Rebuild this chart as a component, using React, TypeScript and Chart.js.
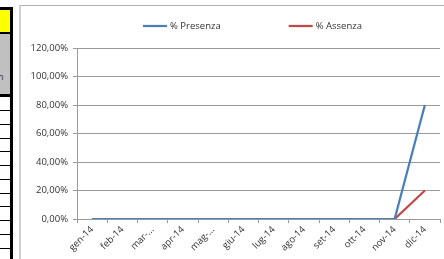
import React, { useEffect, useRef } from "react";
import { Chart, registerables } from "chart.js";

Chart.register(...registerables);

const categories = ["gen-14", "feb-14", "mar-...", "apr-14", "mag-...", "giu-14", "lug-14", "ago-14", "set-14", "ott-14", "nov-14", "dic-14"];
const presenza = [0, 0, 0, 0, 0, 0, 0, 0, 0, 0, 0, 80];
const assenza = [0, 0, 0, 0, 0, 0, 0, 0, 0, 0, 0, 20];
const seriesNames = ["% Presenza", "% Assenza"];
const seriesColors = ["#4A7EBB", "#BE4B48"];
const yMin = 0;
const yMax = 120;
const yStep = 20;
const rowLines = [110, 123.5, 137.5, 151, 165, 178.5, 192.5, 206, 220, 233.5, 247.5];

const FONT = "'Open Sans', 'Liberation Sans', sans-serif";
const TEXT = "#333333";
const GRID = "#9a9a9a";

const legendPlugin = {
  id: "customLegend",
  afterDraw(chart: any) {
    const ctx = chart.ctx;
    ctx.save();
    ctx.font = `9.5px ${FONT}`;
    const lineW = 24;
    const gap = 3;
    const itemGap = 68;
    const widths = chart.data.datasets.map((d: any) => lineW + gap + ctx.measureText(d.label).width);
    const total = widths.reduce((a: number, b: number) => a + b, 0) + itemGap * (widths.length - 1);
    let x = chart.width / 2 - total / 2;
    const y = 19;
    chart.data.datasets.forEach((d: any, i: number) => {
      ctx.strokeStyle = d.borderColor;
      ctx.lineWidth = 2.25;
      ctx.beginPath();
      ctx.moveTo(x, y);
      ctx.lineTo(x + lineW, y);
      ctx.stroke();
      ctx.fillStyle = TEXT;
      ctx.textBaseline = "middle";
      ctx.textAlign = "left";
      ctx.fillText(d.label, x + lineW + gap, y);
      x += widths[i] + itemGap;
    });
    ctx.restore();
  },
};

function ChartView() {
  const ref = useRef<HTMLCanvasElement | null>(null);
  useEffect(() => {
    if (!ref.current) return;
    const chart = new Chart(ref.current, {
      type: "line",
      data: {
        labels: categories,
        datasets: [
          { label: seriesNames[0], data: presenza, borderColor: seriesColors[0], backgroundColor: seriesColors[0], borderWidth: 2.25, pointRadius: 0, tension: 0 },
          { label: seriesNames[1], data: assenza, borderColor: seriesColors[1], backgroundColor: seriesColors[1], borderWidth: 2.25, pointRadius: 0, tension: 0 },
        ],
      },
      options: {
        responsive: false,
        animation: false,
        layout: { padding: { top: 41, right: 44, left: 0, bottom: 0 } },
        plugins: { legend: { display: false }, tooltip: { enabled: false } },
        scales: {
          x: {
            offset: true,
            grid: { offset: true, drawOnChartArea: false, drawTicks: true, tickLength: 4, color: GRID },
            border: { color: GRID },
            ticks: { minRotation: 45, maxRotation: 45, autoSkip: false, color: TEXT, font: { family: FONT, size: 9.5 }, padding: 1 },
            afterFit: (s: any) => { s.height = 40; },
          },
          y: {
            min: yMin,
            max: yMax,
            grid: { color: GRID, tickLength: 4 },
            border: { color: GRID },
            ticks: {
              stepSize: yStep,
              color: TEXT,
              padding: 5,
              font: { family: FONT, size: 9.5 },
              callback: (v: any) => Number(v).toFixed(2).replace(".", ",") + "%",
            },
            afterFit: (s: any) => { s.width = 56; },
          },
        },
      },
      plugins: [legendPlugin],
    });
    return () => chart.destroy();
  }, []);
  return <canvas ref={ref} width={463} height={252} style={{ position: "absolute", left: 21, top: 7, width: 463, height: 252 }} />;
}

export default function App() {
  return (
    <div style={{ position: "absolute", left: 0, top: 0, width: 444, height: 259, overflow: "hidden", background: "#fff" }}>
      {/* spreadsheet cells on the left */}
      <div style={{ position: "absolute", left: 0, top: 7, width: 13, height: 3, background: "#000" }} />
      <div style={{ position: "absolute", left: 0, top: 10, width: 10, height: 22, background: "#ffff00" }} />
      <div style={{ position: "absolute", left: 0, top: 32, width: 13, height: 2, background: "#000" }} />
      <div style={{ position: "absolute", left: 0, top: 34, width: 10, height: 60, background: "#c0c0c0", overflow: "hidden" }}>
        <div style={{ position: "absolute", left: -2, top: 37, fontFamily: FONT, fontSize: 9, color: "#333", lineHeight: "12px" }}>n</div>
      </div>
      <div style={{ position: "absolute", left: 0, top: 94, width: 13, height: 3, background: "#000" }} />
      {rowLines.map((y, i) => (
        <div key={i} style={{ position: "absolute", left: 0, top: y, width: 11, height: 1, background: "#000" }} />
      ))}
      <div style={{ position: "absolute", left: 10, top: 7, width: 3, height: 252, background: "#000" }} />
      {/* chart frame */}
      <div style={{ position: "absolute", left: 19, top: 5, width: 500, height: 300, borderLeft: "2px solid #d0d0d0", borderTop: "1px solid #b0b0b0" }} />
      <ChartView />
    </div>
  );
}
